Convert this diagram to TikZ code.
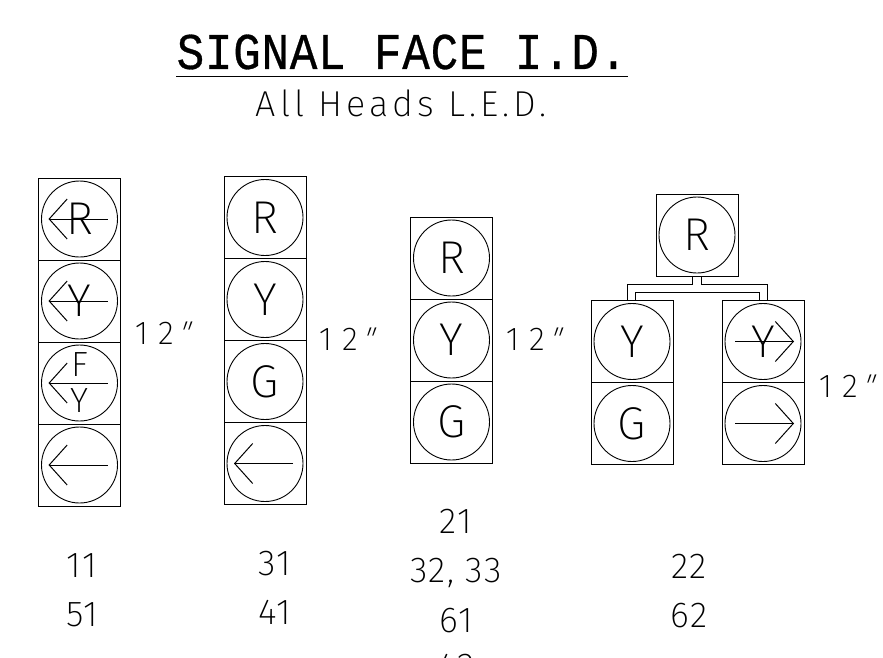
\documentclass[tikz,border=0pt]{standalone}
\usepackage{fontspec}
\usepackage{xcolor}
\usepackage{tikz}
\usetikzlibrary{arrows.meta, positioning, calc}
\newfontfamily\stick{Fira Sans ExtraLight}
\newfontfamily\stickwide[LetterSpace=11]{Fira Sans ExtraLight}
\newfontfamily\stickdigit[LetterSpace=4]{Fira Sans ExtraLight}
\newfontfamily\sticksize[LetterSpace=30]{Fira Sans ExtraLight}
\newfontfamily\stickmark[FakeSlant=0.35]{Fira Sans ExtraLight}
\newfontfamily\titlefont[LetterSpace=1.5,FakeBold=0.6]{Liberation Mono}
\newcommand{\twelve}{12{\stickmark\kern2pt"}}

\begin{document}
\begin{tikzpicture}[
    x=1pt, y=-1pt,
    node distance=0pt,
    housing/.style={rectangle, draw, line width=0.9pt, minimum size=82pt, inner sep=0pt, outer sep=0pt},
    lens/.style={circle, draw, line width=0.9pt, minimum size=76pt, inner sep=0pt, font=\stick\fontsize{46}{46}\selectfont},
    small/.style={inner sep=0pt, font=\stick\fontsize{35}{35}\selectfont},
    number/.style={inner sep=0pt, text height=25pt, text depth=0pt, font=\stickdigit\fontsize{36}{36}\selectfont},
    size/.style={inner sep=0pt, font=\sticksize\fontsize{33}{33}\selectfont},
    arrow/.style={line width=1pt, -{Straight Barb[length=18pt, width=40pt, line width=1pt]}},
    feed/.style={line width=0.9pt}
    ]
    \clip (0,0) rectangle (883,657);

    % title
    \node[inner sep=0pt, font=\titlefont\fontsize{46}{46}\selectfont] (title) at (402,52) {\scalebox{1}[1.12]{SIGNAL FACE I.D.}};
    \draw[line width=1.5pt] ($(title.west)+(0,24.5)$) -- ($(title.east)+(0,24.5)$);
    \node[inner sep=0pt, font=\stickwide\fontsize{36}{36}\selectfont] (heads) at (401,103) {All Heads L.E.D.};

    % first face
    \node[housing] (aone) at (79.5,219) {};
    \node[housing, below=of aone] (atwo) {};
    \node[housing, below=of atwo] (athree) {};
    \node[housing, below=of athree] (afour) {};
    \node[lens] (lensaone) at (aone) {R};
    \node[lens] (lensatwo) at (atwo) {Y};
    \node[lens] (lensathree) at (athree) {};
    \node[lens] (lensafour) at (afour) {};
    \node[small] (labf) at ($(athree)+(0,-18)$) {F};
    \node[small] (laby) at ($(athree)+(0,18)$) {Y};
    \draw[arrow] ($(aone)+(28,0)$) -- ($(aone)+(-31,0)$);
    \draw[arrow] ($(atwo)+(28,0)$) -- ($(atwo)+(-31,0)$);
    \draw[arrow] ($(athree)+(28,0)$) -- ($(athree)+(-31,0)$);
    \draw[arrow] ($(afour)+(28,0)$) -- ($(afour)+(-31,0)$);

    % second face
    \node[housing] (bone) at (265,217.5) {};
    \node[housing, below=of bone] (btwo) {};
    \node[housing, below=of btwo] (bthree) {};
    \node[housing, below=of bthree] (bfour) {};
    \node[lens] (lensbone) at (bone) {R};
    \node[lens] (lensbtwo) at (btwo) {Y};
    \node[lens] (lensbthree) at (bthree) {G};
    \node[lens] (lensbfour) at (bfour) {};
    \draw[arrow] ($(bfour)+(28,0)$) -- ($(bfour)+(-31,0)$);

    % third face
    \node[housing] (cone) at (451.5,258) {};
    \node[housing, below=of cone] (ctwo) {};
    \node[housing, below=of ctwo] (cthree) {};
    \node[lens] (lenscone) at (cone) {R};
    \node[lens] (lensctwo) at (ctwo) {Y};
    \node[lens] (lenscthree) at (cthree) {G};

    % fourth face
    \node[housing] (dtop) at (697,235) {};
    \node[lens] (lensdtop) at (dtop) {R};
    \node[housing] (done) at (632,341.5) {};
    \node[housing, below=of done] (dtwo) {};
    \node[housing] (eone) at (763,341.5) {};
    \node[housing, below=of eone] (etwo) {};
    \node[lens] (lensdone) at (done) {Y};
    \node[lens] (lensdtwo) at (dtwo) {G};
    \node[lens] (lenseone) at (eone) {Y};
    \node[lens] (lensetwo) at (etwo) {};
    \draw[arrow] ($(eone)+(-28,0)$) -- ($(eone)+(31,0)$);
    \draw[arrow] ($(etwo)+(-28,0)$) -- ($(etwo)+(31,0)$);

    % feed between the heads
    \draw[feed] ($(dtop.south)+(-4.3,0)$) |- ++(-65.4,8) -- (done.north -| 627.3,0);
    \draw[feed] ($(dtop.south)+(4.3,0)$) |- ++(66,8) -- (eone.north -| 767.3,0);
    \draw[feed] ($(done.north)+(3.3,0)$) |- ($(eone.north)+(-4,-8)$) -- ($(eone.north)+(-4,0)$);

    % sizes
    \node[size] (sizea) at (161,333) {\twelve};
    \node[size] (sizeb) at (345,339) {\twelve};
    \node[size] (sizec) at (532,339) {\twelve};
    \node[size] (sized) at (845,386) {\twelve};

    % face numbers
    \node[number] (numa) at (82,565) {11};
    \node[number, below=24pt of numa] (numb) {51};
    \node[number] (numc) at (275,563) {31};
    \node[number, below=24pt of numc] (numd) {41};
    \node[number] (nume) at (456,521) {21};
    \node[number, below=24pt of nume] (numf) {32, 33};
    \node[number, below=24pt of numf] (numg) {61};
    \node[number, below=21pt of numg] (numh) {42};
    \node[number] (numi) at (689,566) {22};
    \node[number, below=24pt of numi] (numj) {62};
  \end{tikzpicture}
\end{document}
